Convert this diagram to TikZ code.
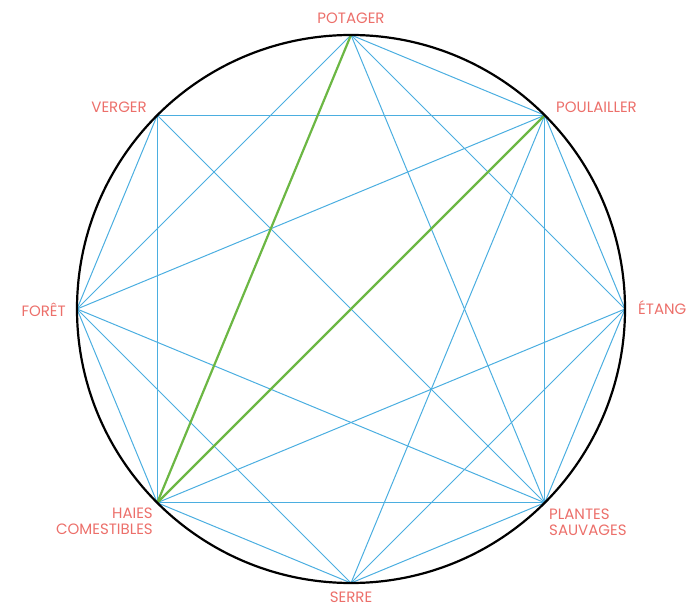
\documentclass[tikz,border=0pt]{standalone}
\usepackage{fontspec}
\setmainfont{Poppins}
\usepackage{xcolor}
\usetikzlibrary{calc}

\definecolor{labelred}{HTML}{EC6F6A}
\definecolor{linkblue}{HTML}{4BAEE0}
\definecolor{linkgreen}{HTML}{6CB744}

\begin{document}
\begin{tikzpicture}[
    x=1pt, y=1pt,
    zone/.style={text=labelred, font=\fontsize{15}{16}\selectfont, inner sep=0pt},
    link/.style={linkblue, line width=1pt},
    keylink/.style={linkgreen, line width=2.2pt}
]
    \useasboundingbox (0,0) rectangle (690,606);
    \coordinate (c) at (351,297);

    % places round the circle
    \coordinate (pot) at ($(c)+(90:274)$);
    \coordinate (poul) at ($(c)+(45:274)$);
    \coordinate (etang) at ($(c)+(0:274)$);
    \coordinate (plantes) at ($(c)+(-45:274)$);
    \coordinate (serre) at ($(c)+(-90:274)$);
    \coordinate (haies) at ($(c)+(-135:274)$);
    \coordinate (foret) at ($(c)+(180:274)$);
    \coordinate (verger) at ($(c)+(135:274)$);

    % links
    \foreach \a/\b in {pot/foret, pot/plantes, pot/etang, pot/poul,
        poul/verger, poul/foret, poul/serre, poul/plantes, poul/etang,
        etang/haies, etang/serre, etang/plantes,
        plantes/foret, plantes/verger, plantes/haies, plantes/serre,
        serre/haies, serre/foret,
        haies/foret, haies/verger, foret/verger}
        \draw[link] (\a) -- (\b);
    \draw[keylink] (pot) -- (haies);
    \draw[keylink] (poul) -- (haies);

    \draw[line width=2.2pt] (c) circle (274);

    % labels
    \node[zone] (lpot) at (351,588) {POTAGER};
    \node[zone, anchor=west] (lpoul) at (556,499) {POULAILLER};
    \node[zone, anchor=west] (letang) at (638,298) {ÉTANG};
    \node[zone, anchor=west, align=left] (lplantes) at (549,84) {PLANTES\\SAUVAGES};
    \node[zone] (lserre) at (351,9) {SERRE};
    \node[zone, anchor=east, align=right] (lhaies) at (153,85) {HAIES\\COMESTIBLES};
    \node[zone, anchor=east] (lforet) at (66,296) {FORÊT};
    \node[zone, anchor=east] (lverger) at (147,499) {VERGER};
\end{tikzpicture}
\end{document}
